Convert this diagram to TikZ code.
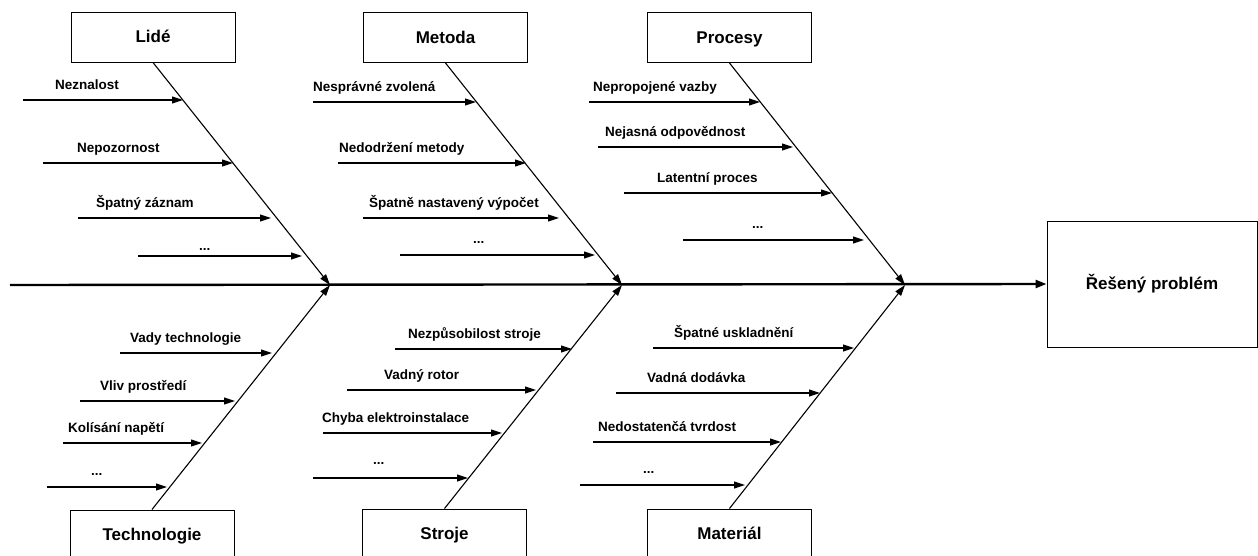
\documentclass[tikz,border=0pt]{standalone}
\usepackage{fontspec}
\setmainfont{Liberation Sans}
\usetikzlibrary{arrows.meta}
\newcommand{\threedots}{...}
\tikzset{
  catbox/.style={draw,line width=1pt,minimum width=164pt,minimum height=50pt,
    text height=14pt,text depth=3pt,
    font=\bfseries\fontsize{17}{20}\selectfont},
  resbox/.style={draw,line width=1pt,minimum width=210pt,minimum height=126pt,
    text height=14pt,text depth=3pt,
    font=\bfseries\fontsize{17}{20}\selectfont},
  spine/.style={line width=2.4pt,-{Triangle[length=11pt,width=8pt]}},
  bone/.style={line width=1.1pt,-{Triangle[length=11pt,width=7pt]}},
  cause/.style={line width=1.1pt,-{Triangle[length=11pt,width=7pt]}},
  lbl/.style={anchor=base west,inner sep=0pt,font=\bfseries\fontsize{13.5}{16}\selectfont}
}
\begin{document}
\begin{tikzpicture}[x=1pt,y=-1pt]
  \useasboundingbox (0,0) rectangle (1258,555);
  \clip (0,0) rectangle (1258,555);
  % categories
  \node[catbox] (lide) at (153,37) {Lidé};
  \node[catbox] (metoda) at (445.5,37.5) {Metoda};
  \node[catbox] (procesy) at (729.5,37.5) {Procesy};
  \node[catbox] (tech) at (152,535) {Technologie};
  \node[catbox] (stroje) at (444.5,534) {Stroje};
  \node[catbox] (material) at (729.5,534) {Materiál};
  \node[resbox] (problem) at (1152,284) {Řešený problém};
  % spine and bones
  \coordinate (tail) at (10,285);
  \coordinate (j1) at (330,285);
  \coordinate (j2) at (622,285);
  \coordinate (j3) at (905,285);
  \draw[spine] (tail) -- (problem.west);
  \draw[bone] (lide.south) -- (j1);
  \draw[bone] (tech.north) -- (j1);
  \draw[bone] (metoda.south) -- (j2);
  \draw[bone] (stroje.north) -- (j2);
  \draw[bone] (procesy.south) -- (j3);
  \draw[bone] (material.north) -- (j3);
  % causes: name/start/end/y/label x/label baseline/text
  \foreach \n/\xa/\xb/\y/\lx/\ly/\txt in {
      nez/23/183/100/55/89/Neznalost,
      nep/43/233/163/77/152/Nepozornost,
      spz/78/271/218/96/207/Špatný záznam,
      ldot/138/302/256/199/250/\threedots,
      nsz/313/476/102/313/91/Nesprávné zvolená,
      ndm/338/526/163/339/152/Nedodržení metody,
      snv/363/559/218/369/207/Špatně nastavený výpočet,
      mdot/400/595/255/473/243/\threedots,
      npv/589/760/102/593/91/Nepropojené vazby,
      njo/598/793/147/605/136/Nejasná odpovědnost,
      lpr/624/832/193/657/182/Latentní proces,
      pdot/683/864/240/752/228/\threedots,
      vte/120/272/353/130/342/Vady technologie,
      vpr/80/235/401/100/390/Vliv prostředí,
      kna/63/202/443/68/432/Kolísání napětí,
      tdot/47/167/487/91/475/\threedots,
      nst/395/572/349/408/338/Nezpůsobilost stroje,
      vro/347/536/390/384/379/Vadný rotor,
      cel/323/502/433/322/422/Chyba elektroinstalace,
      sdot/313/468/478/373/464/\threedots,
      sus/653/854/348/674/337/Špatné uskladnění,
      vdo/616/820/393/647/382/Vadná dodávka,
      ntv/593/781/442/598/431/Nedostatenčá tvrdost,
      mtdot/580/745/485/643/473/\threedots} {
    \coordinate (\n a) at (\xa,\y);
    \coordinate (\n b) at (\xb,\y);
    \draw[cause] (\n a) -- (\n b);
    \node[lbl] (\n) at (\lx,\ly) {\txt};
  }
\end{tikzpicture}
\end{document}
